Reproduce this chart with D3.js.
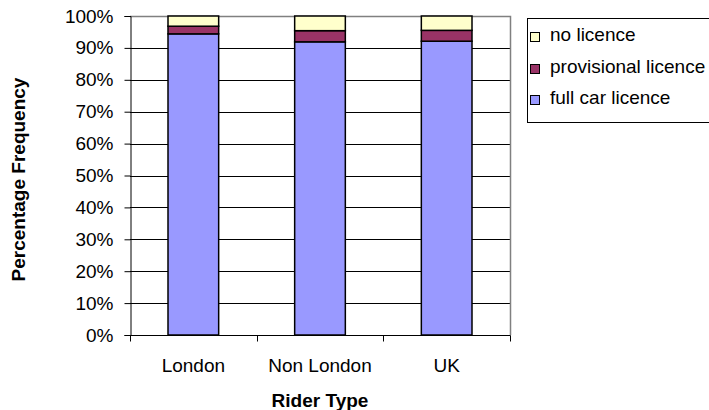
<!DOCTYPE html>
<html>
<head>
<meta charset="utf-8">
<script src="https://cdn.jsdelivr.net/npm/d3@7/dist/d3.min.js"></script>
<style>
  html, body { margin: 0; padding: 0; background: #fff; }
  svg { display: block; font-family: "Liberation Sans", Arial, sans-serif; }
</style>
</head>
<body>
<svg id="chart" width="709" height="410"></svg>
<script>
const categories = ["London", "Non London", "UK"];
const fullCarLicence = [94.4, 91.9, 92.1];
const provisionalLicence = [2.4, 3.5, 3.4];
const noLicence = [3.2, 4.6, 4.5];
const yTicks = [0, 10, 20, 30, 40, 50, 60, 70, 80, 90, 100];
const seriesNames = ["full car licence", "provisional licence", "no licence"];
const seriesColors = ["#9999FF", "#993366", "#FFFFCC"];

const svg = d3.select("#chart");
const margin = { left: 130, right: 199, top: 16, bottom: 75 };
const W = 709, H = 410;
const x = d3.scaleBand().domain(categories).range([margin.left, W - margin.right]).paddingInner(0.6).paddingOuter(0.3);
const xb = d3.scalePoint().domain(d3.range(categories.length + 1)).range([margin.left, W - margin.right]);
const y = d3.scaleLinear().domain([0, 100]).range([H - margin.bottom, margin.top]);

const FS = 19;

// gridlines
svg.append("g").selectAll("line").data(yTicks.filter(t => t > 0 && t < 100)).join("line")
  .attr("x1", margin.left).attr("x2", W - margin.right)
  .attr("y1", d => Math.round(y(d)) + 0.5).attr("y2", d => Math.round(y(d)) + 0.5)
  .attr("stroke", "#000").attr("stroke-width", 1);

// plot area border top/right (gray)
svg.append("path")
  .attr("d", `M${margin.left},${Math.round(y(100)) + 0.5}H${W - margin.right + 0.5}V${Math.round(y(0))}`)
  .attr("fill", "none").attr("stroke", "#808080").attr("stroke-width", 1.5);

// stacked bars
const rows = categories.map((c, i) => ({ cat: c, vals: [fullCarLicence[i], provisionalLicence[i], noLicence[i]] }));
const bars = svg.append("g");
rows.forEach(r => {
  let acc = 0;
  r.vals.forEach((v, k) => {
    bars.append("rect")
      .attr("x", x(r.cat)).attr("width", x.bandwidth())
      .attr("y", y(acc + v)).attr("height", y(acc) - y(acc + v))
      .attr("fill", seriesColors[k]).attr("stroke", "#000").attr("stroke-width", 1.5);
    acc += v;
  });
});

// y axis
const yAxis = svg.append("g").attr("transform", `translate(${margin.left + 0.5},0)`)
  .call(d3.axisLeft(y).tickValues(yTicks).tickFormat(d => d + "%").tickSizeOuter(0).tickSize(6).tickPadding(11));
yAxis.select(".domain").attr("stroke", "#000");
yAxis.selectAll(".tick line").attr("stroke", "#000");
yAxis.selectAll("text").attr("font-size", FS).attr("font-family", "Liberation Sans, Arial, sans-serif").attr("fill", "#000");

// x axis
const xAxisG = svg.append("g").attr("transform", `translate(0,${Math.round(y(0)) + 0.5})`);
xAxisG.append("line").attr("x1", margin.left).attr("x2", W - margin.right + 0.5).attr("stroke", "#000").attr("stroke-width", 1);
xAxisG.selectAll("line.t").data(d3.range(categories.length + 1)).join("line").attr("class", "t")
  .attr("x1", d => Math.round(xb(d)) + 0.5).attr("x2", d => Math.round(xb(d)) + 0.5)
  .attr("y1", 0).attr("y2", 6).attr("stroke", "#000");
xAxisG.selectAll("text").data(categories).join("text")
  .attr("x", d => x(d) + x.bandwidth() / 2).attr("y", 36)
  .attr("text-anchor", "middle").attr("font-size", FS).text(d => d);

// axis titles
svg.append("text").attr("x", (margin.left + W - margin.right) / 2).attr("y", 407)
  .attr("text-anchor", "middle").attr("font-size", FS).attr("font-weight", "bold").text("Rider Type");
svg.append("text").attr("transform", `translate(25,${(y(0) + y(100)) / 2 + 4}) rotate(-90)`)
  .attr("text-anchor", "middle").attr("font-size", FS).attr("font-weight", "bold").text("Percentage Frequency");

// legend
const lg = svg.append("g");
lg.append("rect").attr("x", 527.5).attr("y", 18.5).attr("width", 200).attr("height", 104)
  .attr("fill", "#fff").attr("stroke", "#000").attr("stroke-width", 1);
const legendOrder = [2, 1, 0];
legendOrder.forEach((k, i) => {
  const base = 41 + i * 31.5;
  lg.append("rect").attr("x", 530.5).attr("y", Math.round(base - 9) + 0.5).attr("width", 9).attr("height", 9)
    .attr("fill", seriesColors[k]).attr("stroke", "#000").attr("stroke-width", 1);
  lg.append("text").attr("x", 550).attr("y", base).attr("font-size", FS).text(seriesNames[k]);
});
</script>
</body>
</html>
